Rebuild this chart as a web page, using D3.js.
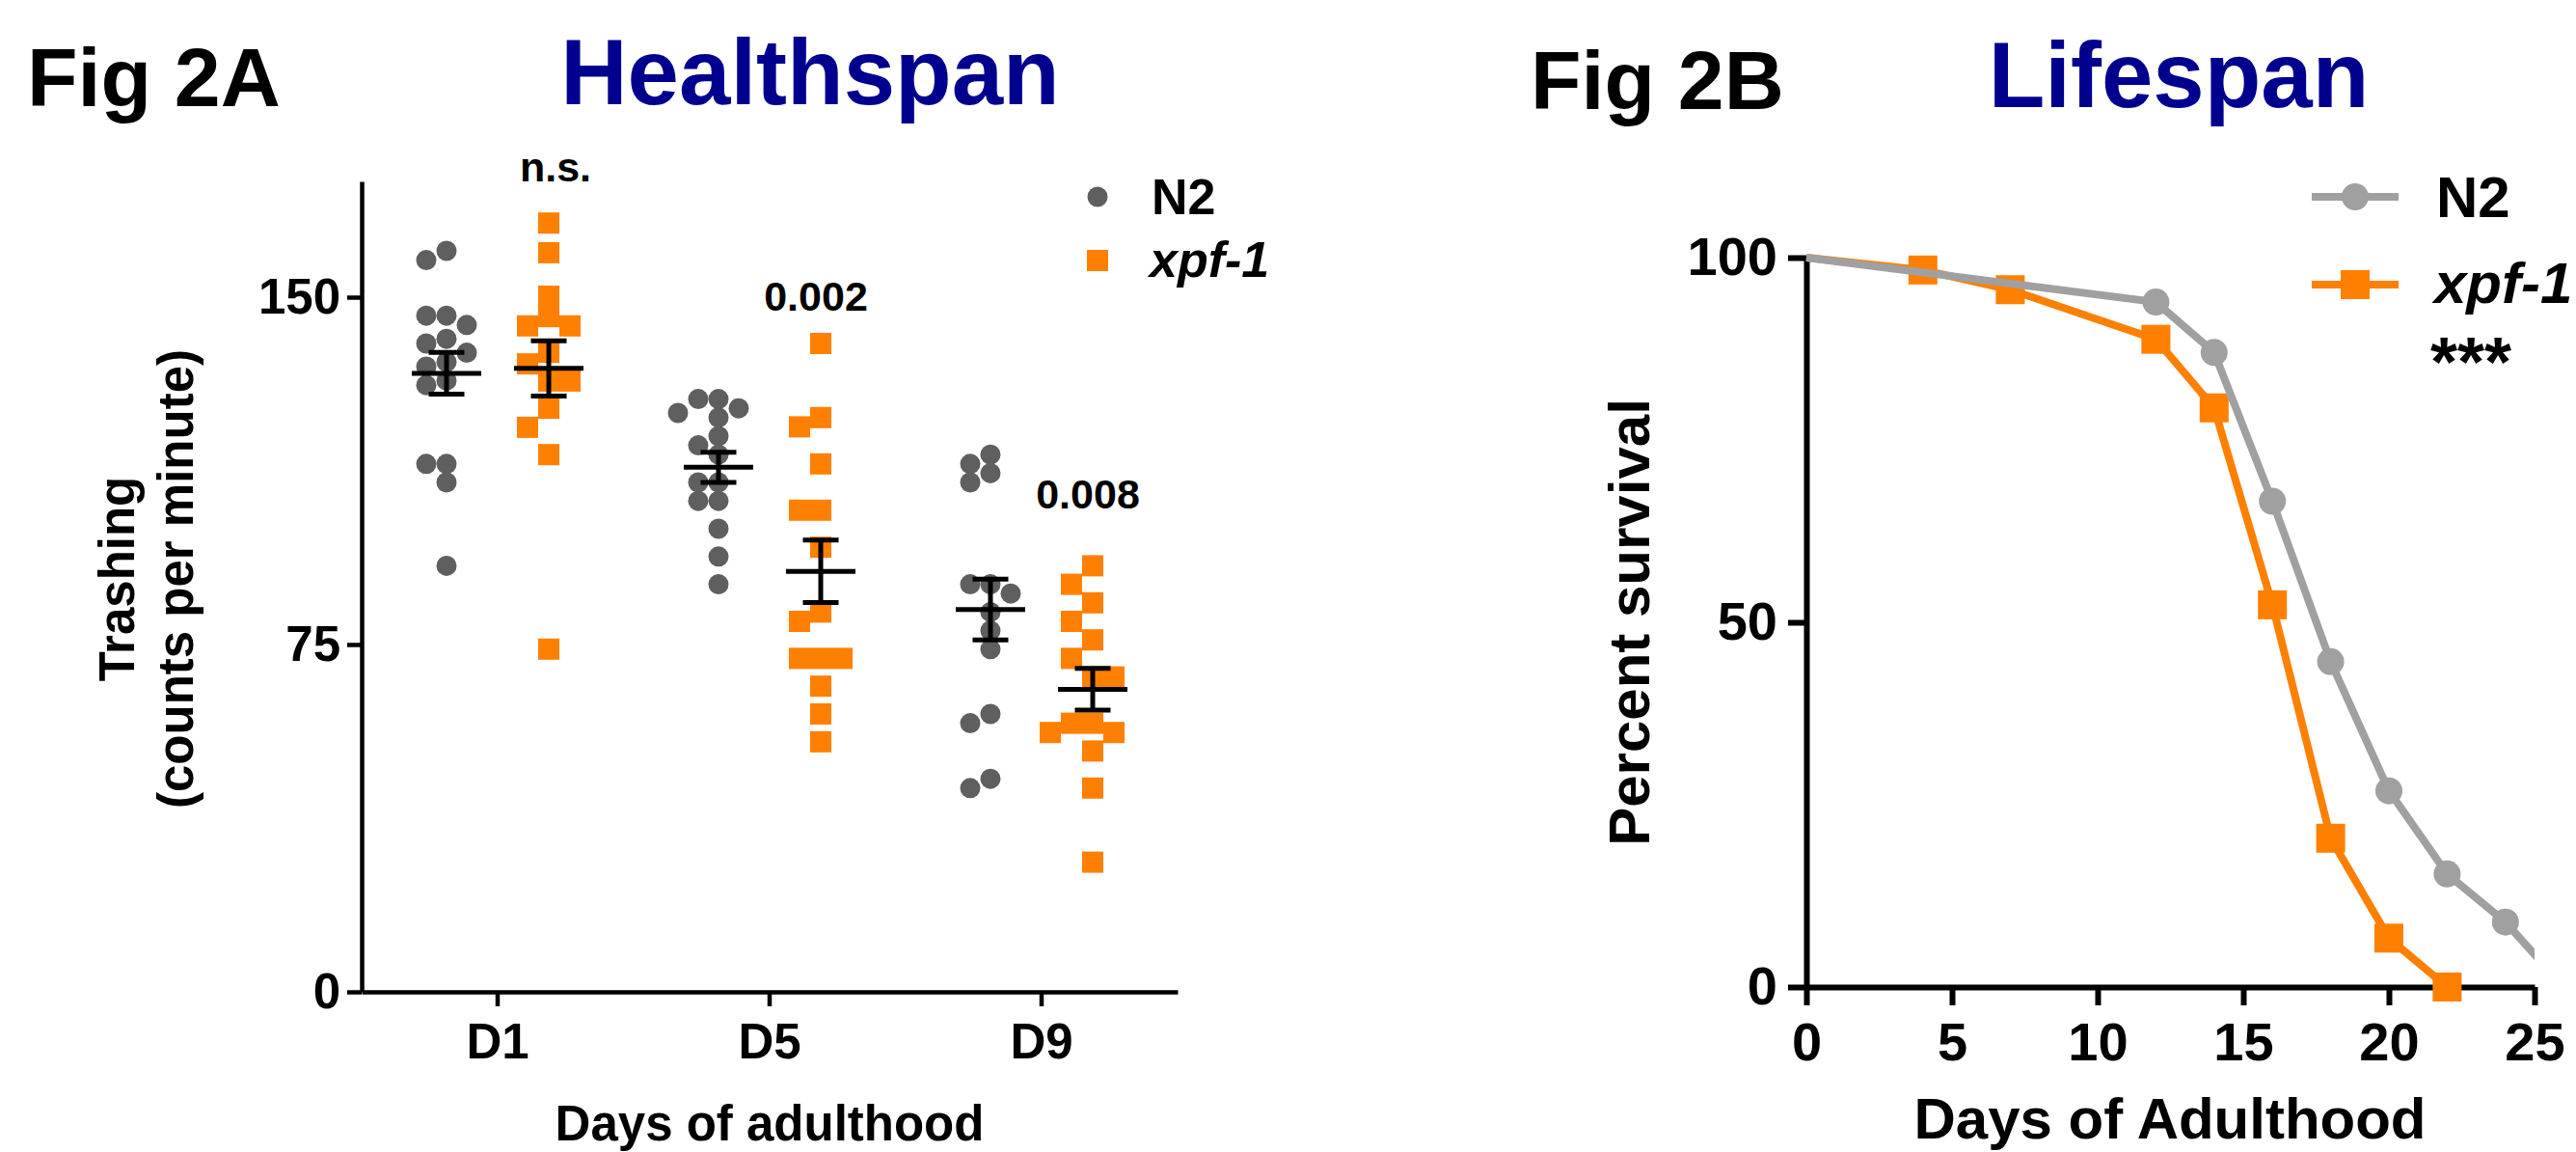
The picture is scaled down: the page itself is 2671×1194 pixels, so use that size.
<!DOCTYPE html>
<html lang="en">
<head>
    <meta charset="UTF-8">
    <title>Fig 2 - Healthspan and Lifespan</title>
    <script src="https://d3js.org/d3.v7.min.js"></script>
    <style>
        body { margin: 0; background: #fff; }
        svg { display: block; font-family: "Liberation Sans", Arial, sans-serif; font-weight: bold; }
        .axis path, .axis line { stroke: #000; }
        .axis text { fill: #000; font-family: "Liberation Sans", Arial, sans-serif; font-weight: bold; }
        .title { fill: #00008f; }
    </style>
</head>
<body>
<svg id="chart" width="2671" height="1194"></svg>
<script>
    // ---- Fig 2A: thrashing, counts per minute ----
    const dayGroups = ["D1", "D5", "D9"];
    const strains = ["N2", "xpf-1"];
    const n2Thrash = [
        [160, 158, 146, 146, 144, 141, 140, 138, 136, 135, 132, 131, 114, 114, 110, 92],
        [128, 128, 126, 125, 124, 120, 118, 116, 110, 110, 106, 106, 100, 94, 88],
        [116, 114, 112, 110, 88, 88, 86, 82, 78, 74, 60, 58, 46, 44]
    ];
    const xpfThrash = [
        [166, 159.6, 150.2, 145.8, 143.8, 143.8, 138.1, 135.6, 131.9, 131.9, 126, 121.9, 116, 74],
        [140, 124, 122, 114, 104, 104, 96, 82, 80, 72, 72, 72, 66, 60, 54],
        [92, 88, 84, 80, 76, 72, 68, 68, 58, 58, 56, 56, 52, 44, 28]
    ];
    const pLabels = ["n.s.", "0.002", "0.008"];
    const pLabelAt = [175, 147, 104.4];   // in counts/min, where the label sits
    const thrashTicks = [0, 75, 150];

    // ---- Fig 2B: survival curves ----
    const n2Days = [0, 12, 14, 16, 18, 20, 22, 24, 26];
    const n2Surv = [100, 93.9, 87, 66.6, 44.6, 26.9, 15.5, 8.9, 0];
    const xpfDays = [0, 4, 7, 12, 14, 16, 18, 20, 22];
    const xpfSurv = [100, 98.3, 95.6, 88.8, 79.4, 52.4, 20.4, 6.7, 0];
    const ageTicks = [0, 5, 10, 15, 20, 25];
    const survTicks = [0, 50, 100];

    const grayA = "#5f5f5f", grayB = "#a0a0a0", orange = "#ff8000";

    const svg = d3.select("#chart");

    // titles
    svg.append("text").attr("x", 28).attr("y", 110).attr("font-size", 86).text("Fig 2A");
    svg.append("text").attr("class", "title").attr("x", 840).attr("y", 108)
        .attr("text-anchor", "middle").attr("font-size", 96).text("Healthspan");
    svg.append("text").attr("x", 1587).attr("y", 113).attr("font-size", 86).text("Fig 2B");
    svg.append("text").attr("class", "title").attr("x", 2259).attr("y", 111)
        .attr("text-anchor", "middle").attr("font-size", 96).text("Lifespan");

    // ================= panel A =================
    const x0 = d3.scaleBand().domain(dayGroups).range([375, 1221]);
    const x1 = d3.scalePoint().domain(strains).range([0, x0.bandwidth()]).padding(0.83);
    const yA = d3.scaleLinear().domain([0, 175]).range([1028, 188]);

    // spread points with close values sideways (scatter dot plot look)
    function dodge(vals, size) {
        const placed = [];
        const off = new Array(vals.length);
        const order = vals.map((v, i) => i).sort((a, b) => vals[b] - vals[a]);
        order.forEach(i => {
            const py = yA(vals[i]);
            for (let k = 0; k < 40; k++) {
                const dx = (k % 2 ? -1 : 1) * Math.ceil(k / 2) * size / 2;
                const hit = placed.some(p => Math.abs(p.x - dx) < size * 0.9 && Math.abs(p.y - py) < size * 0.9);
                if (!hit) { placed.push({ x: dx, y: py }); off[i] = dx; break; }
            }
        });
        return off;
    }

    const gA = svg.append("g");

    const yAxisA = gA.append("g").attr("class", "axis").attr("transform", "translate(375,0)")
        .call(d3.axisLeft(yA).tickValues(thrashTicks).tickSize(15).tickSizeOuter(0).tickPadding(7));
    const xAxisA = gA.append("g").attr("class", "axis").attr("transform", "translate(0,1028)")
        .call(d3.axisBottom(x0).tickSize(15).tickSizeOuter(0).tickPadding(18));
    [yAxisA, xAxisA].forEach(a => {
        a.attr("font-size", null).attr("font-family", null);
        a.selectAll("path, line").attr("stroke-width", 4.5);
        a.selectAll("text").attr("font-size", 51);
    });

    const groupsA = [];
    dayGroups.forEach((d, i) => {
        groupsA.push({ day: d, strain: "N2", vals: n2Thrash[i] });
        groupsA.push({ day: d, strain: "xpf-1", vals: xpfThrash[i] });
    });

    groupsA.forEach(g => {
        const cx = x0(g.day) + x1(g.strain);
        const size = g.strain === "N2" ? 21 : 22;
        const offs = dodge(g.vals, size);
        const layer = gA.append("g");
        if (g.strain === "N2") {
            layer.selectAll("circle").data(g.vals).join("circle")
                .attr("cx", (v, i) => cx + offs[i]).attr("cy", v => yA(v))
                .attr("r", 10.5).attr("fill", grayA);
        } else {
            layer.selectAll("rect").data(g.vals).join("rect")
                .attr("x", (v, i) => cx + offs[i] - 11).attr("y", v => yA(v) - 11)
                .attr("width", 22).attr("height", 22).attr("fill", orange);
        }
        // mean +/- SEM
        const mean = d3.mean(g.vals);
        const sem = d3.deviation(g.vals) / Math.sqrt(g.vals.length);
        const bar = gA.append("g").attr("stroke", "#000").attr("stroke-width", 5);
        bar.append("line").attr("x1", cx - 36).attr("x2", cx + 36).attr("y1", yA(mean)).attr("y2", yA(mean));
        bar.append("line").attr("x1", cx).attr("x2", cx).attr("y1", yA(mean - sem)).attr("y2", yA(mean + sem));
        [mean - sem, mean + sem].forEach(v => {
            bar.append("line").attr("x1", cx - 18.5).attr("x2", cx + 18.5).attr("y1", yA(v)).attr("y2", yA(v));
        });
    });

    // p values above xpf-1 groups
    dayGroups.forEach((d, i) => {
        gA.append("text").attr("x", x0(d) + x1("xpf-1") + (i === 0 ? 7 : -5)).attr("y", yA(pLabelAt[i]))
            .attr("text-anchor", "middle").attr("font-size", 43).text(pLabels[i]);
    });

    // axis titles A
    const yLabA = gA.append("text").attr("transform", "translate(139,600) rotate(-90)")
        .attr("text-anchor", "middle").attr("font-size", 51);
    yLabA.append("tspan").attr("x", 0).attr("y", 0).text("Trashing");
    yLabA.append("tspan").attr("x", 0).attr("y", 61).text("(counts per minute)");
    gA.append("text").attr("x", 798).attr("y", 1182).attr("text-anchor", "middle")
        .attr("font-size", 51).text("Days of adulthood");

    // legend A
    gA.append("circle").attr("cx", 1138).attr("cy", 204).attr("r", 10.5).attr("fill", grayA);
    gA.append("rect").attr("x", 1127).attr("y", 259).attr("width", 22).attr("height", 22).attr("fill", orange);
    gA.append("text").attr("x", 1194).attr("y", 222).attr("font-size", 52).text(strains[0]);
    gA.append("text").attr("x", 1192).attr("y", 287).attr("font-size", 52)
        .attr("font-style", "italic").text(strains[1]);

    // ================= panel B =================
    const xB = d3.scaleLinear().domain([0, 25]).range([1873, 2628]);
    const yB = d3.scaleLinear().domain([0, 100]).range([1023, 267]);
    const gB = svg.append("g");

    const yAxisB = gB.append("g").attr("class", "axis").attr("transform", "translate(1873,0)")
        .call(d3.axisLeft(yB).tickValues(survTicks).tickSize(19).tickSizeOuter(0).tickPadding(11));
    const xAxisB = gB.append("g").attr("class", "axis").attr("transform", "translate(0,1023)")
        .call(d3.axisBottom(xB).tickValues(ageTicks).tickSize(19).tickSizeOuter(0).tickPadding(17));
    [yAxisB, xAxisB].forEach(a => {
        a.attr("font-size", null).attr("font-family", null);
        a.selectAll("path, line").attr("stroke-width", 6);
        a.selectAll("text").attr("font-size", 56);
    });

    svg.append("defs").append("clipPath").attr("id", "clipB")
        .append("rect").attr("x", 1800).attr("y", 200).attr("width", 2628 - 1800).attr("height", 900);

    const line = d3.line().x(d => xB(d[0])).y(d => yB(d[1]));
    const xpfPts = xpfDays.map((d, i) => [d, xpfSurv[i]]);
    const n2Pts = n2Days.map((d, i) => [d, n2Surv[i]]);

    const plotB = gB.append("g").attr("clip-path", "url(#clipB)");
    plotB.append("path").datum(xpfPts).attr("d", line).attr("fill", "none")
        .attr("stroke", orange).attr("stroke-width", 8);
    plotB.selectAll(".sq").data(xpfPts.filter(d => d[0] > 0)).join("rect").attr("class", "sq")
        .attr("x", d => xB(d[0]) - 15).attr("y", d => yB(d[1]) - 15)
        .attr("width", 30).attr("height", 30).attr("fill", orange);
    plotB.append("path").datum(n2Pts).attr("d", line).attr("fill", "none")
        .attr("stroke", grayB).attr("stroke-width", 8);
    plotB.selectAll(".dot").data(n2Pts.filter(d => d[0] > 0)).join("circle").attr("class", "dot")
        .attr("cx", d => xB(d[0])).attr("cy", d => yB(d[1])).attr("r", 14).attr("fill", grayB);

    // axis titles B
    gB.append("text").attr("transform", "translate(1710,645) rotate(-90)")
        .attr("text-anchor", "middle").attr("font-size", 60).text("Percent survival");
    gB.append("text").attr("x", 2250).attr("y", 1180).attr("text-anchor", "middle")
        .attr("font-size", 60).text("Days of Adulthood");

    // legend B
    gB.append("line").attr("x1", 2397).attr("x2", 2487).attr("y1", 204).attr("y2", 204)
        .attr("stroke", grayB).attr("stroke-width", 8);
    gB.append("circle").attr("cx", 2442).attr("cy", 204).attr("r", 14).attr("fill", grayB);
    gB.append("line").attr("x1", 2397).attr("x2", 2487).attr("y1", 295).attr("y2", 295)
        .attr("stroke", orange).attr("stroke-width", 8);
    gB.append("rect").attr("x", 2427).attr("y", 280).attr("width", 30).attr("height", 30).attr("fill", orange);
    gB.append("text").attr("x", 2526).attr("y", 225).attr("font-size", 60).text(strains[0]);
    gB.append("text").attr("x", 2524).attr("y", 314).attr("font-size", 60)
        .attr("font-style", "italic").text(strains[1]);
    gB.append("text").attr("x", 2520).attr("y", 400).attr("font-size", 72).text("***");
</script>
</body>
</html>
